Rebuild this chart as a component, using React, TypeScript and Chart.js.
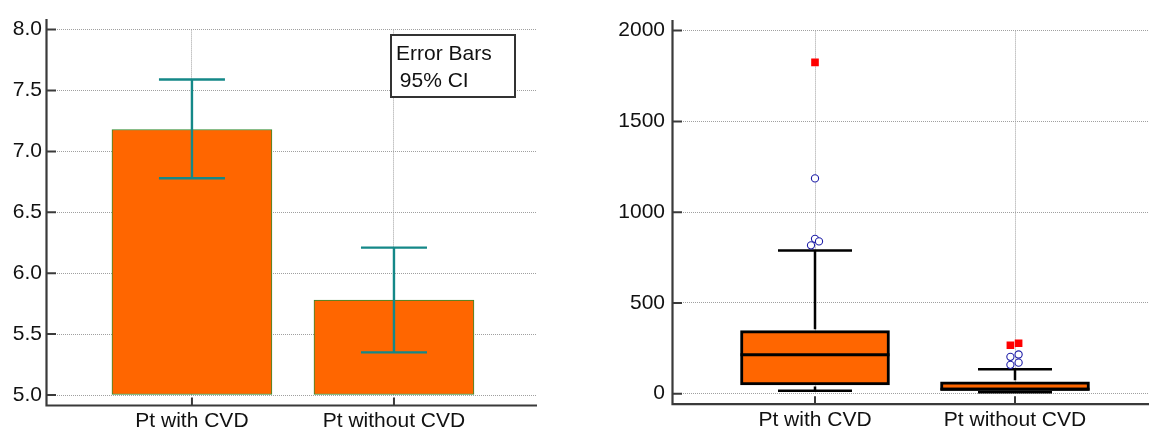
import React, { useEffect, useRef } from 'react';
import { Chart, registerables } from 'chart.js';

Chart.register(...registerables);
Chart.defaults.font.family = '"Liberation Sans", Arial, Helvetica, sans-serif';
Chart.defaults.color = '#111';

// ---------- data ----------
const categories = ['Pt with CVD', 'Pt without CVD'];

// left panel: means with 95% CI
const meanValues = [7.18, 5.78];
const ciLower = [6.78, 5.35];
const ciUpper = [7.59, 6.21];
const leftAxisMin = 5.0;
const leftAxisMax = 8.0;
const leftStep = 0.5;
const legendLines = ['Error Bars', ' 95% CI'];

// right panel: box-and-whisker
const lowerWhisker = [16, 8];
const q1Values = [48, 18];
const medianValues = [214, 25];
const q3Values = [347, 66];
const upperWhisker = [789, 135];
const rightAxisMin = 0;
const rightAxisMax = 2000;
const rightStep = 500;

// outside values (circles)
const outsideCategory = [0, 0, 0, 0, 1, 1, 1, 1];
const outsideValues = [1186, 853, 839, 817, 203, 216, 159, 171];
const outsideJitter = [0, 0, 0.02, -0.02, -0.023, 0.018, -0.023, 0.018];
// far-out values (red squares)
const farCategory = [0, 1, 1];
const farValues = [1825, 267, 278];
const farJitter = [0, -0.023, 0.018];

const FONT_SIZE = 21;
const AXIS_OFFSET = 10.5;

function axisPlugin() {
  return {
    id: 'offsetAxes',
    afterDraw(chart: any) {
      const { ctx, chartArea: a, scales } = chart;
      const x = scales.x;
      const y = scales.y;
      const ax = a.left - AXIS_OFFSET;
      const ay = a.bottom + AXIS_OFFSET;
      ctx.save();
      ctx.strokeStyle = '#3a3a3a';
      ctx.lineWidth = 2.2;
      ctx.beginPath();
      ctx.moveTo(ax, a.top - AXIS_OFFSET);
      ctx.lineTo(ax, ay);
      ctx.lineTo(a.right, ay);
      ctx.stroke();
      ctx.lineWidth = 2;
      ctx.beginPath();
      y.ticks.forEach((t: any) => {
        const py = y.getPixelForValue(t.value);
        ctx.moveTo(ax, py);
        ctx.lineTo(ax + 9.5, py);
      });
      x.ticks.forEach((t: any) => {
        const px = x.getPixelForValue(t.value);
        ctx.moveTo(px, ay);
        ctx.lineTo(px, ay - 8);
      });
      ctx.stroke();
      ctx.restore();
    },
  };
}

const gridCommon = {
  color: '#a0a0a0',
  lineWidth: 1,
  drawTicks: false,
  tickLength: 0,
  offset: false,
};
const borderCommon = { display: false, dash: [1, 1] };

function categoryTicks(scale: any) {
  scale.ticks = categories.map((_, i) => ({ value: i }));
}

function fitX(height: number) {
  return (s: any) => {
    s.height = height;
    s.paddingLeft = 0;
    s.paddingRight = 0;
  };
}

function LeftChart() {
  const ref = useRef<HTMLCanvasElement>(null);
  useEffect(() => {
    const errorBars = {
      id: 'errorBars',
      afterDatasetsDraw(chart: any) {
        const { ctx, scales } = chart;
        const x = scales.x;
        const y = scales.y;
        ctx.save();
        ctx.strokeStyle = '#148888';
        ctx.lineWidth = 2.4;
        categories.forEach((_, i) => {
          const px = x.getPixelForValue(i);
          const lo = y.getPixelForValue(ciLower[i]);
          const hi = y.getPixelForValue(ciUpper[i]);
          ctx.beginPath();
          ctx.moveTo(px, lo);
          ctx.lineTo(px, hi);
          ctx.moveTo(px - 33, hi);
          ctx.lineTo(px + 33, hi);
          ctx.moveTo(px - 33, lo);
          ctx.lineTo(px + 33, lo);
          ctx.stroke();
        });
        ctx.restore();
      },
    };
    const legendBox = {
      id: 'legendBox',
      afterDraw(chart: any) {
        const { ctx } = chart;
        ctx.save();
        ctx.fillStyle = '#fff';
        ctx.fillRect(391, 35, 124, 62);
        ctx.strokeStyle = '#333';
        ctx.lineWidth = 2;
        ctx.strokeRect(391, 35, 124, 62);
        ctx.fillStyle = '#111';
        ctx.font = `${FONT_SIZE}px "Liberation Sans", Arial, sans-serif`;
        ctx.textBaseline = 'alphabetic';
        ctx.fillText(legendLines[0], 396, 60);
        ctx.fillText(legendLines[1], 394, 87);
        ctx.restore();
      },
    };
    const chart = new Chart(ref.current!, {
      type: 'bar',
      data: {
        datasets: [
          {
            data: meanValues.map((v, i) => ({ x: i, y: v })),
            base: leftAxisMin,
            backgroundColor: '#ff6600',
            borderColor: '#2e8b2e',
            borderWidth: 1,
            borderSkipped: false,
            barThickness: 160,
          } as any,
        ],
      },
      options: {
        responsive: false,
        animation: false,
        layout: { autoPadding: false, padding: { top: 29.6, right: 33, left: 0, bottom: 0 } },
        plugins: { legend: { display: false }, tooltip: { enabled: false } },
        scales: {
          x: {
            type: 'linear',
            offset: false,
            min: -0.668,
            max: 1.708,
            afterBuildTicks: categoryTicks,
            afterFit: fitX(38),
            grid: gridCommon,
            border: borderCommon,
            ticks: {
              autoSkip: false,
              maxRotation: 0,
              padding: 14,
              font: { size: FONT_SIZE },
              callback: (v: any) => categories[v] ?? '',
            },
          },
          y: {
            type: 'linear',
            min: leftAxisMin,
            max: leftAxisMax,
            afterFit: (s: any) => {
              s.width = 57;
            },
            grid: gridCommon,
            border: borderCommon,
            ticks: {
              stepSize: leftStep,
              padding: 15,
              font: { size: FONT_SIZE },
              callback: (v: any) => Number(v).toFixed(1),
            },
          },
        },
      } as any,
      plugins: [errorBars, axisPlugin(), legendBox],
    });
    return () => chart.destroy();
  }, []);
  return <canvas ref={ref} width={570} height={433} style={{ display: 'block' }} />;
}

function RightChart() {
  const ref = useRef<HTMLCanvasElement>(null);
  useEffect(() => {
    const whiskers = {
      id: 'whiskers',
      afterDatasetDraw(chart: any, args: any) {
        if (args.meta.type !== 'bar') return;
        const { ctx, scales } = chart;
        const x = scales.x;
        const y = scales.y;
        ctx.save();
        ctx.strokeStyle = '#000';
        categories.forEach((_, i) => {
          const px = x.getPixelForValue(i);
          const half = 149 / 2;
          ctx.lineWidth = 2.5;
          ctx.beginPath();
          ctx.moveTo(px, y.getPixelForValue(q3Values[i]) - 1.5);
          ctx.lineTo(px, y.getPixelForValue(upperWhisker[i]));
          ctx.moveTo(px, y.getPixelForValue(q1Values[i]) + 1.5);
          ctx.lineTo(px, y.getPixelForValue(lowerWhisker[i]));
          ctx.moveTo(px - 37, y.getPixelForValue(upperWhisker[i]));
          ctx.lineTo(px + 37, y.getPixelForValue(upperWhisker[i]));
          ctx.moveTo(px - 37, y.getPixelForValue(lowerWhisker[i]));
          ctx.lineTo(px + 37, y.getPixelForValue(lowerWhisker[i]));
          ctx.stroke();
          ctx.lineWidth = 3;
          ctx.beginPath();
          ctx.moveTo(px - half, y.getPixelForValue(medianValues[i]));
          ctx.lineTo(px + half, y.getPixelForValue(medianValues[i]));
          ctx.stroke();
        });
        ctx.restore();
      },
    };
    const chart = new Chart(ref.current!, {
      type: 'bar',
      data: {
        datasets: [
          {
            type: 'bar',
            order: 2,
            data: q1Values.map((v, i) => ({ x: i, y: [v, q3Values[i]] })),
            backgroundColor: '#ff6600',
            borderColor: '#000',
            borderWidth: 3,
            borderSkipped: false,
            barThickness: 149,
          } as any,
          {
            type: 'scatter',
            order: 1,
            data: outsideValues.map((v, i) => ({ x: outsideCategory[i] + outsideJitter[i], y: v })),
            pointStyle: 'circle',
            pointRadius: 3.6,
            pointBorderWidth: 1.1,
            pointBorderColor: '#1f1fa8',
            pointBackgroundColor: '#ffffff',
            showLine: false,
          } as any,
          {
            type: 'scatter',
            order: 0,
            data: farValues.map((v, i) => ({ x: farCategory[i] + farJitter[i], y: v })),
            pointStyle: 'rect',
            pointRadius: 5.4,
            pointBorderWidth: 0,
            pointBorderColor: '#ff0000',
            pointBackgroundColor: '#ff0000',
            showLine: false,
          } as any,
        ],
      },
      options: {
        responsive: false,
        animation: false,
        layout: { autoPadding: false, padding: { top: 19.3, right: 0, left: 0, bottom: 0 } },
        plugins: { legend: { display: false }, tooltip: { enabled: false } },
        scales: {
          x: {
            type: 'linear',
            offset: false,
            min: -0.66,
            max: 1.67,
            afterBuildTicks: categoryTicks,
            afterFit: fitX(39.3),
            grid: gridCommon,
            border: borderCommon,
            ticks: {
              autoSkip: false,
              maxRotation: 0,
              padding: 13.5,
              font: { size: FONT_SIZE },
              callback: (v: any) => categories[v] ?? '',
            },
          },
          y: {
            type: 'linear',
            min: rightAxisMin,
            max: rightAxisMax,
            afterFit: (s: any) => {
              s.width = 113;
            },
            grid: gridCommon,
            border: borderCommon,
            ticks: {
              stepSize: rightStep,
              padding: 18,
              font: { size: FONT_SIZE },
              callback: (v: any) => String(v),
            },
          },
        },
      } as any,
      plugins: [whiskers, axisPlugin()],
    });
    return () => chart.destroy();
  }, []);
  return <canvas ref={ref} width={579} height={433} style={{ display: 'block' }} />;
}

export default function App() {
  return (
    <div
      style={{
        position: 'absolute',
        left: 0,
        top: 0,
        width: 1149,
        height: 433,
        background: '#fff',
        overflow: 'hidden',
      }}
    >
      <div style={{ position: 'absolute', left: 0, top: 0 }}>
        <LeftChart />
      </div>
      <div style={{ position: 'absolute', left: 570, top: 0 }}>
        <RightChart />
      </div>
    </div>
  );
}
